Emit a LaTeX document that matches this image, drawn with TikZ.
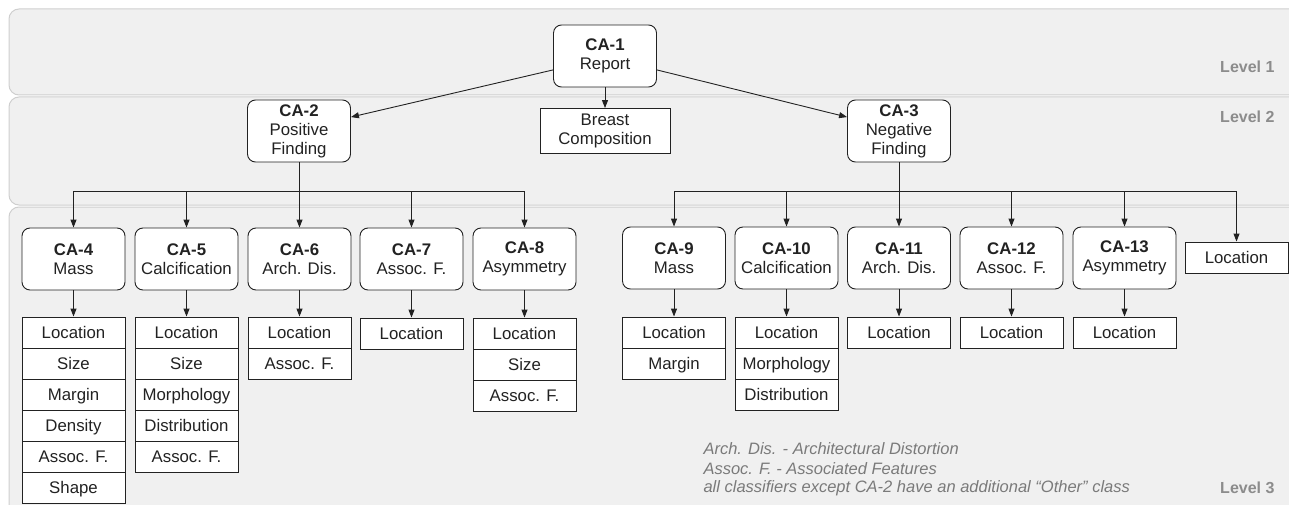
\documentclass[tikz,border=0pt]{standalone}
\usepackage{fontspec}
\setmainfont{Liberation Sans}
\usetikzlibrary{arrows.meta}

\definecolor{panelfill}{HTML}{F0F0F0}
\definecolor{paneledge}{HTML}{CFCFCF}
\definecolor{levelgray}{HTML}{8C8C8C}
\definecolor{notegray}{HTML}{7A7A7A}
\definecolor{ink}{HTML}{222222}

\tikzset{
  panel/.style={fill=panelfill,draw=paneledge,line width=1pt,rounded corners=10pt},
  classbox/.style={draw=ink,fill=white,text=ink,rounded corners=8pt,line width=0.9pt,
    minimum width=103pt,minimum height=62pt,align=center,inner sep=1pt,
    font=\fontsize{16.8}{19}\selectfont},
  attrbox/.style={draw=ink,fill=white,text=ink,line width=0.9pt,minimum width=103pt,
    minimum height=31pt,inner sep=1pt,align=center,font=\fontsize{16.8}{19}\selectfont},
  rowbox/.style={attrbox,text height=11.5pt,text depth=0.5pt},
  levellabel/.style={anchor=east,text=levelgray,font=\fontsize{16}{18}\selectfont\bfseries},
  notetext/.style={anchor=west,text=notegray,font=\fontsize{16.5}{19}\selectfont\itshape},
  link/.style={draw=ink,line width=0.9pt},
  arrow/.style={link,-{Triangle[length=8pt,width=6pt]}},
}

\begin{document}
\begin{tikzpicture}[x=1pt,y=-1pt]
    \useasboundingbox (0,0) rectangle (1289,505);
    \clip (0,0) rectangle (1289,505);

    % level panels
    \draw[panel] (9,9) rectangle (1310,95);
    \draw[panel] (9,97) rectangle (1310,205);
    \draw[panel] (9,207) rectangle (1310,530);
    \node[levellabel] (lv1) at (1278,67) {Level 1};
    \node[levellabel] (lv2) at (1278,117) {Level 2};
    \node[levellabel] (lv3) at (1278,488) {Level 3};

    % level 1 and 2
    \node[classbox] (ca1) at (605,56) {\textbf{CA-1}\\Report};
    \node[classbox] (ca2) at (299,131) {\textbf{CA-2}\\Positive\\Finding};
    \node[classbox] (ca3) at (899,131) {\textbf{CA-3}\\Negative\\Finding};
    \node[attrbox,minimum width=130pt,minimum height=45pt] (breast) at (605,131) {Breast\\Composition};
    \draw[arrow] (ca1.195) -- (ca2.15);
    \draw[arrow] (ca1.345) -- (ca3.165);
    \draw[arrow] (ca1.south) -- (breast.north);

    % level 3, positive side
    \node[classbox] (ca4) at (73.5,259) {\textbf{CA-4}\\Mass};
    \node[classbox] (ca5) at (186.5,259) {\textbf{CA-5}\\Calcification};
    \node[classbox] (ca6) at (299.5,259) {\textbf{CA-6}\\Arch. Dis.};
    \node[classbox] (ca7) at (411.5,259) {\textbf{CA-7}\\Assoc. F.};
    \node[classbox] (ca8) at (524.5,259) {\textbf{CA-8}\\Asymmetry};
    \coordinate (posbus) at (299.5,191);
    \draw[link] (ca2.south) -- (ca2.south |- posbus);
    \draw[link] (ca4.north |- posbus) -- (ca8.north |- posbus);
    \draw[arrow] (ca4.north |- posbus) -- (ca4.north);
    \draw[arrow] (ca5.north |- posbus) -- (ca5.north);
    \draw[arrow] (ca6.north |- posbus) -- (ca6.north);
    \draw[arrow] (ca7.north |- posbus) -- (ca7.north);
    \draw[arrow] (ca8.north |- posbus) -- (ca8.north);

    \node[rowbox] (ca4a) at (73.5,332.5) {Location};
    \node[rowbox] (ca4b) at (73.5,363.5) {Size};
    \node[rowbox] (ca4c) at (73.5,394.5) {Margin};
    \node[rowbox] (ca4d) at (73.5,425.5) {Density};
    \node[rowbox] (ca4e) at (73.5,456.5) {Assoc. F.};
    \node[rowbox] (ca4f) at (73.5,487.5) {Shape};
    \node[rowbox] (ca5a) at (186.5,332.5) {Location};
    \node[rowbox] (ca5b) at (186.5,363.5) {Size};
    \node[rowbox] (ca5c) at (186.5,394.5) {Morphology};
    \node[rowbox] (ca5d) at (186.5,425.5) {Distribution};
    \node[rowbox] (ca5e) at (186.5,456.5) {Assoc. F.};
    \node[rowbox] (ca6a) at (299.5,332.5) {Location};
    \node[rowbox] (ca6b) at (299.5,363.5) {Assoc. F.};
    \node[rowbox] (ca7a) at (411.5,333.5) {Location};
    \node[rowbox] (ca8a) at (524.5,333.5) {Location};
    \node[rowbox] (ca8b) at (524.5,364.5) {Size};
    \node[rowbox] (ca8c) at (524.5,395.5) {Assoc. F.};
    \draw[arrow] (ca4.south) -- (ca4a.north);
    \draw[arrow] (ca5.south) -- (ca5a.north);
    \draw[arrow] (ca6.south) -- (ca6a.north);
    \draw[arrow] (ca7.south) -- (ca7a.north);
    \draw[arrow] (ca8.south) -- (ca8a.north);

    % level 3, negative side
    \node[classbox] (ca9) at (674,258) {\textbf{CA-9}\\Mass};
    \node[classbox] (ca10) at (786.5,258) {\textbf{CA-10}\\Calcification};
    \node[classbox] (ca11) at (899,258) {\textbf{CA-11}\\Arch. Dis.};
    \node[classbox] (ca12) at (1011.5,258) {\textbf{CA-12}\\Assoc. F.};
    \node[classbox] (ca13) at (1124.5,258) {\textbf{CA-13}\\Asymmetry};
    \node[rowbox] (negloc) at (1236.5,257.5) {Location};
    \coordinate (negbus) at (899,191);
    \draw[link] (ca3.south) -- (ca3.south |- negbus);
    \draw[link] (ca9.north |- negbus) -- (negloc.north |- negbus);
    \draw[arrow] (ca9.north |- negbus) -- (ca9.north);
    \draw[arrow] (ca10.north |- negbus) -- (ca10.north);
    \draw[arrow] (ca11.north |- negbus) -- (ca11.north);
    \draw[arrow] (ca12.north |- negbus) -- (ca12.north);
    \draw[arrow] (ca13.north |- negbus) -- (ca13.north);
    \draw[arrow] (negloc.north |- negbus) -- (negloc.north);

    \node[rowbox] (ca9a) at (674,332.5) {Location};
    \node[rowbox] (ca9b) at (674,363.5) {Margin};
    \node[rowbox] (ca10a) at (786.5,332.5) {Location};
    \node[rowbox] (ca10b) at (786.5,363.5) {Morphology};
    \node[rowbox] (ca10c) at (786.5,394.5) {Distribution};
    \node[rowbox] (ca11a) at (899,332.5) {Location};
    \node[rowbox] (ca12a) at (1011.5,332.5) {Location};
    \node[rowbox] (ca13a) at (1124.5,332.5) {Location};
    \draw[arrow] (ca9.south) -- (ca9a.north);
    \draw[arrow] (ca10.south) -- (ca10a.north);
    \draw[arrow] (ca11.south) -- (ca11a.north);
    \draw[arrow] (ca12.south) -- (ca12a.north);
    \draw[arrow] (ca13.south) -- (ca13a.north);

    % abbreviations
    \node[notetext] (note1) at (700,449) {Arch. Dis. - Architectural Distortion};
    \node[notetext] (note2) at (700,469) {Assoc. F. - Associated Features};
    \node[notetext] (note3) at (700,488) {all classifiers except CA-2 have an additional “Other” class};
\end{tikzpicture}
\end{document}
